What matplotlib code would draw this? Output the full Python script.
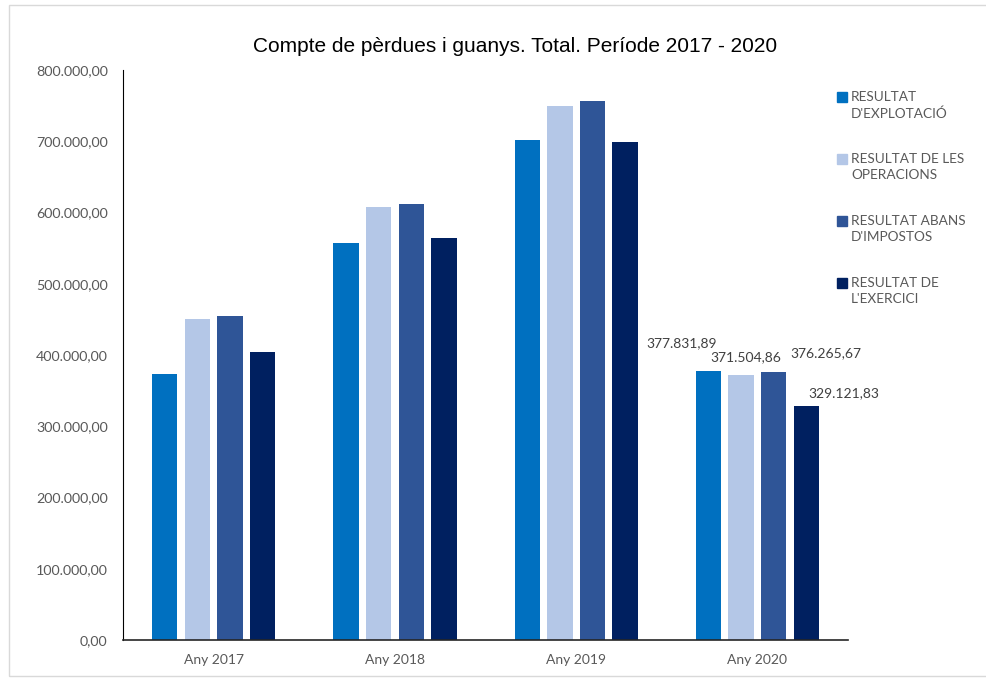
import numpy as np
import matplotlib.pyplot as plt
from matplotlib.patches import Rectangle

# Data
years = ['Any 2017', 'Any 2018', 'Any 2019', 'Any 2020']
series = ["RESULTAT\nD'EXPLOTACIÓ", "RESULTAT DE LES\nOPERACIONS",
          "RESULTAT ABANS\nD'IMPOSTOS", "RESULTAT DE\nL'EXERCICI"]
explotacio = [373000, 557000, 702000, 377831.89]
operacions = [450500, 607500, 749000, 371504.86]
abans_impostos = [454500, 612000, 756000, 376265.67]
exercici = [404000, 564000, 699000, 329121.83]
values = [explotacio, operacions, abans_impostos, exercici]
colors = ['#0070C0', '#B4C7E7', '#2F5597', '#002060']

# labels shown only for the last year (offsets in px, as placed in the original)
label_offsets = [(-27, 28), (5, 18), (52, 19), (37, 12)]

def fmt(v):
    s = f'{v:,.2f}'
    return s.replace(',', 'X').replace('.', ',').replace('X', '.')

plt.rcParams['font.family'] = ['Lato', 'DejaVu Sans']
gray = '#595959'

fig = plt.figure(figsize=(9.86, 6.79), dpi=100)
ax = fig.add_axes([123/986, 39/679, 725/986, 570/679])

x = np.arange(len(years))
width = 0.14
step = 0.18
for i, vals in enumerate(values):
    pos = x + (i - 1.5) * step
    bars = ax.bar(pos, vals, width, color=colors[i])
    dx, dy = label_offsets[i]
    ax.annotate(fmt(vals[-1]), (pos[-1], vals[-1]), xytext=(dx * 0.72, dy * 0.72),
                textcoords='offset points', ha='center', va='center',
                fontsize=10, color='#404040')

ax.set_xlim(-0.5, len(years) - 0.5)
ax.set_ylim(0, 800000)
ax.set_yticks(np.arange(0, 800001, 100000))
ax.set_yticklabels([fmt(v) for v in np.arange(0, 800001, 100000)])
ax.set_xticks(x)
ax.set_xticklabels(years)
ax.tick_params(axis='y', length=0, pad=11, labelsize=10.3, labelcolor=gray)
ax.tick_params(axis='x', length=0, pad=10, labelsize=10, labelcolor=gray)
for s in ['top', 'right']:
    ax.spines[s].set_visible(False)
ax.spines['left'].set_color('black')
ax.spines['left'].set_linewidth(0.8)
ax.spines['bottom'].set_color('#262626')
ax.spines['bottom'].set_linewidth(1.2)

fig.text(515/986, 1 - 47/679, 'Compte de pèrdues i guanys. Total. Període 2017 - 2020',
         ha='center', va='center', fontsize=15, color='black',
         family=['Liberation Sans', 'DejaVu Sans'])

# legend drawn by hand so the square lines up with the first text line
for i, lab in enumerate(series):
    ytop = 97 + i * 62
    fig.add_artist(Rectangle((837/986, 1 - (ytop + 5)/679), 10/986, 10/679,
                             transform=fig.transFigure, color=colors[i]))
    fig.text(851/986, 1 - (ytop - 6)/679, lab, ha='left', va='top',
             fontsize=9.8, color=gray, linespacing=1.4)

# chart area border
fig.add_artist(Rectangle((9/986, 3/679), 990/986, 671/679, transform=fig.transFigure,
                         fill=False, edgecolor='#D9D9D9', linewidth=1))

fig.savefig('out.png', dpi=100)
